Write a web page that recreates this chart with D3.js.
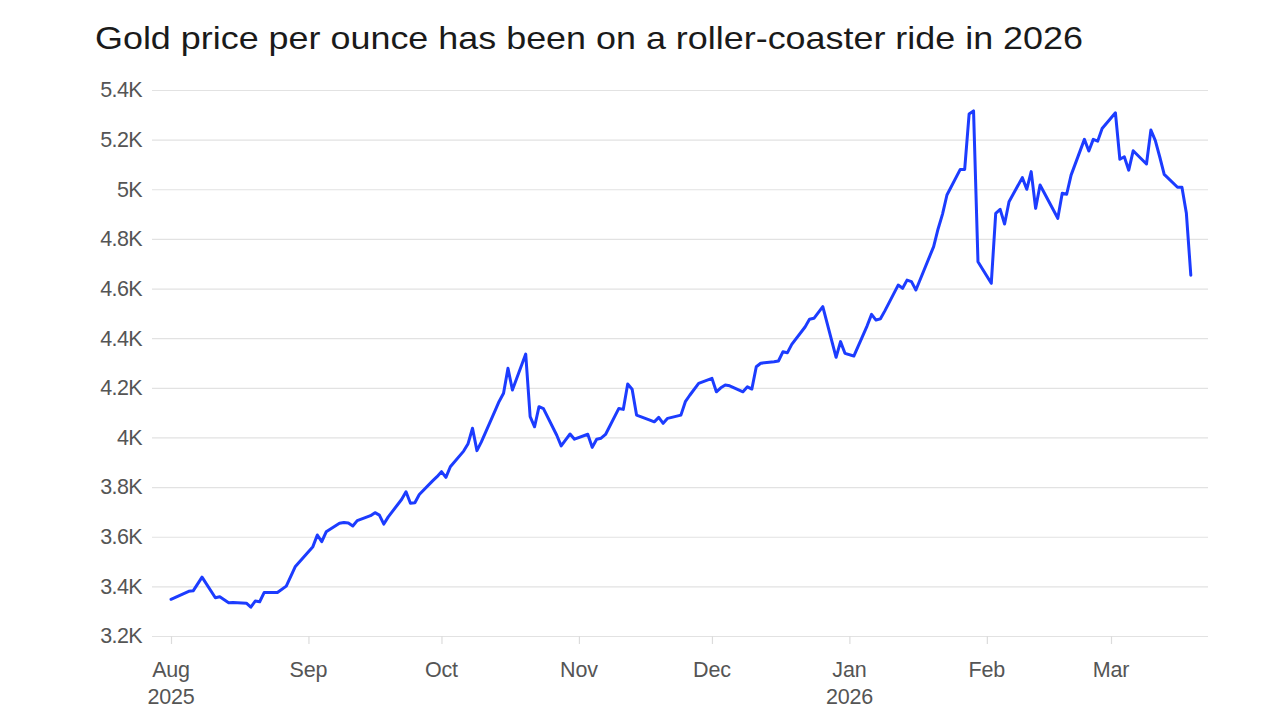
<!DOCTYPE html>
<html>
<head>
<meta charset="utf-8">
<script src="https://cdn.jsdelivr.net/npm/d3@7"></script>
<style>
  html, body { margin: 0; padding: 0; background: #fff; }
  svg { display: block; }
</style>
</head>
<body>
<svg id="chart" width="1280" height="720"></svg>
<script>
const title = "Gold price per ounce has been on a roller-coaster ride in 2026";

const dates = [
  "2025-08-01","2025-08-05","2025-08-06","2025-08-08","2025-08-11","2025-08-12","2025-08-14","2025-08-15",
  "2025-08-18","2025-08-19","2025-08-20","2025-08-21","2025-08-22","2025-08-25","2025-08-27","2025-08-29",
  "2025-09-02","2025-09-03","2025-09-04","2025-09-05","2025-09-08","2025-09-09","2025-09-10","2025-09-11",
  "2025-09-12","2025-09-15","2025-09-16","2025-09-17","2025-09-18","2025-09-19","2025-09-22","2025-09-23",
  "2025-09-24","2025-09-25","2025-09-26","2025-09-29","2025-09-30","2025-10-01","2025-10-02","2025-10-03",
  "2025-10-06","2025-10-07","2025-10-08","2025-10-09","2025-10-10","2025-10-13","2025-10-14","2025-10-15",
  "2025-10-16","2025-10-17","2025-10-20","2025-10-21","2025-10-22","2025-10-23","2025-10-24","2025-10-27",
  "2025-10-28","2025-10-29","2025-10-30","2025-10-31","2025-11-03","2025-11-04","2025-11-05","2025-11-06",
  "2025-11-07","2025-11-10","2025-11-11","2025-11-12","2025-11-13","2025-11-14","2025-11-17","2025-11-18",
  "2025-11-19","2025-11-20","2025-11-21","2025-11-24","2025-11-25","2025-11-26","2025-11-28","2025-12-01",
  "2025-12-02","2025-12-03","2025-12-04","2025-12-05","2025-12-08","2025-12-09","2025-12-10","2025-12-11",
  "2025-12-12","2025-12-15","2025-12-16","2025-12-17","2025-12-18","2025-12-19","2025-12-22","2025-12-23",
  "2025-12-24","2025-12-26","2025-12-29","2025-12-30","2025-12-31","2026-01-02","2026-01-05","2026-01-06",
  "2026-01-07","2026-01-08","2026-01-09","2026-01-12","2026-01-13","2026-01-14","2026-01-15","2026-01-16",
  "2026-01-20","2026-01-21","2026-01-22","2026-01-23","2026-01-26","2026-01-27","2026-01-28","2026-01-29",
  "2026-01-30","2026-02-02","2026-02-03","2026-02-04","2026-02-05","2026-02-06","2026-02-09","2026-02-10",
  "2026-02-11","2026-02-12","2026-02-13","2026-02-17","2026-02-18","2026-02-19","2026-02-20","2026-02-23",
  "2026-02-24","2026-02-25","2026-02-26","2026-02-27","2026-03-02","2026-03-03","2026-03-04","2026-03-05",
  "2026-03-06","2026-03-09","2026-03-10","2026-03-11","2026-03-12","2026-03-13","2026-03-16","2026-03-17",
  "2026-03-18","2026-03-19"
];

const prices = [
  3348,3380,3382,3437,3354,3358,3334,3335,
  3332,3316,3341,3338,3375,3375,3401,3479,
  3560,3607,3580,3620,3654,3657,3655,3643,
  3665,3685,3697,3687,3651,3680,3750,3781,
  3735,3737,3770,3825,3842,3862,3839,3882,
  3945,3975,4037,3947,3982,4104,4145,4178,
  4279,4191,4336,4084,4043,4124,4116,4009,
  3966,3990,4014,3993,4013,3960,3993,3997,
  4012,4117,4113,4215,4194,4090,4070,4063,
  4081,4057,4077,4090,4144,4170,4218,4238,
  4184,4200,4211,4208,4184,4204,4195,4285,
  4299,4305,4308,4345,4341,4375,4445,4476,
  4480,4527,4323,4386,4339,4328,4450,4496,
  4473,4478,4510,4614,4601,4634,4628,4594,
  4769,4840,4900,4977,5080,5080,5303,5316,
  4708,4621,4903,4919,4860,4950,5047,5000,
  5071,4923,5017,4883,4984,4980,5057,5201,
  5154,5201,5194,5245,5308,5121,5131,5077,
  5155,5102,5239,5196,5130,5060,5008,5008,
  4903,4654
];

const yTicks = [3200,3400,3600,3800,4000,4200,4400,4600,4800,5000,5200,5400];
const xTickDates = ["2025-08-01","2025-09-01","2025-10-01","2025-11-01","2025-12-01","2026-01-01","2026-02-01","2026-03-01"];
const xTickLabels = [["Aug","2025"],["Sep"],["Oct"],["Nov"],["Dec"],["Jan","2026"],["Feb"],["Mar"]];

const parse = d3.utcParse("%Y-%m-%d");
const data = dates.map((d, i) => ({ date: parse(d), value: prices[i] }));

const svg = d3.select("#chart");
const FONT = "'Liberation Sans', Arial, sans-serif";

const x = d3.scaleUtc()
  .domain([parse("2025-08-01"), parse("2026-03-01")])
  .range([171, 1111]);
const y = d3.scaleLinear().domain([3200, 5400]).range([636, 90]);

// Title
svg.append("text")
  .attr("x", 95).attr("y", 49)
  .attr("font-family", FONT)
  .attr("font-size", 32)
  .attr("fill", "#1a1a1a")
  .attr("textLength", 988)
  .attr("lengthAdjust", "spacingAndGlyphs")
  .text(title);

// Y gridlines + labels
const yAxis = d3.axisLeft(y)
  .tickValues(yTicks)
  .tickSize(-(1208 - 152))
  .tickPadding(10)
  .tickFormat(v => (+(v / 1000).toFixed(1)) + "K");

const gy = svg.append("g")
  .attr("transform", "translate(152,0)")
  .call(yAxis);
gy.select(".domain").remove();
gy.selectAll(".tick line").attr("stroke", "#e2e2e2").attr("stroke-width", 1.2);
gy.selectAll(".tick text")
  .attr("font-family", FONT)
  .attr("font-size", 21.5)
  .attr("fill", "#555")
  .attr("letter-spacing", "-0.6px");

// X ticks
const xAxis = d3.axisBottom(x)
  .tickValues(xTickDates.map(parse))
  .tickSize(8)
  .tickFormat("");
const gx = svg.append("g")
  .attr("transform", "translate(0,636)")
  .call(xAxis);
gx.select(".domain").remove();
gx.selectAll(".tick line").attr("stroke", "#dcdcdc").attr("stroke-width", 1.2);

const labels = svg.append("g");
xTickDates.forEach((d, i) => {
  const t = labels.append("text")
    .attr("x", x(parse(d)))
    .attr("y", 677)
    .attr("text-anchor", "middle")
    .attr("font-family", FONT)
    .attr("font-size", 21.5)
    .attr("fill", "#555")
    .attr("letter-spacing", "-0.2px");
  xTickLabels[i].forEach((s, j) => {
    t.append("tspan").attr("x", x(parse(d))).attr("dy", j === 0 ? 0 : 27).text(s);
  });
});

// Line
const line = d3.line()
  .x(d => x(d.date))
  .y(d => y(d.value));

svg.append("path")
  .datum(data)
  .attr("fill", "none")
  .attr("stroke", "#1c3cff")
  .attr("stroke-width", 3)
  .attr("stroke-linejoin", "round")
  .attr("stroke-linecap", "round")
  .attr("d", line);
</script>
</body>
</html>
